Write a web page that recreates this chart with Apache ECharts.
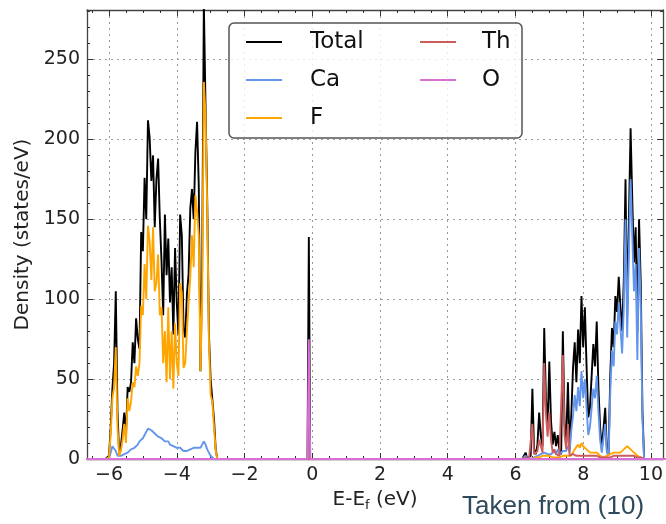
<!DOCTYPE html>
<html><head><meta charset="utf-8">
<script src="https://cdn.jsdelivr.net/npm/echarts@6/dist/echarts.min.js"></script>
<style>html,body{margin:0;padding:0;background:#fff}#chart{width:666px;height:524px}</style>
</head><body><div id="chart"></div>
<script>
// ---------- data ----------
const seriesNames = ['Total', 'Ca', 'F', 'Th', 'O'];
const seriesColors = ['#000000', '#6495ED', '#FFA500', '#CD5C5C', '#DA70D6'];

const xRange = [-6.65, 10.36];
const yRange = [0, 281];
const xTickValues = [-6, -4, -2, 0, 2, 4, 6, 8, 10];
const xMinorTickValues = [-6.5, -5.5, -5, -4.5, -3.5, -3, -2.5, -1.5, -1, -0.5, 0.5, 1, 1.5, 2.5, 3, 3.5, 4.5, 5, 5.5, 6.5, 7, 7.5, 8.5, 9, 9.5];
const yTickValues = [0, 50, 100, 150, 200, 250];
const yMinorTickValues = [10, 20, 30, 40, 60, 70, 80, 90, 110, 120, 130, 140, 160, 170, 180, 190, 210, 220, 230, 240, 260, 270, 280];

// end points of the energy window (zero density)
const edgeEnergy = [-6.8, 10.5];
const edgeDensity = [0, 0];

// valence band
const valenceEnergy = [-6.10,-6.05,-6.00,-5.95,-5.90,-5.85,-5.80,-5.75,-5.70,-5.65,-5.60,-5.55,-5.50,-5.45,-5.40,-5.35,-5.30,-5.25,-5.20,-5.15,-5.10,-5.05,-5.00,-4.95,-4.90,-4.85,-4.80,-4.75,-4.70,-4.65,-4.60,-4.55,-4.50,-4.45,-4.40,-4.35,-4.30,-4.25,-4.20,-4.15,-4.10,-4.05,-4.00,-3.95,-3.90,-3.85,-3.80,-3.75,-3.70,-3.65,-3.60,-3.55,-3.50,-3.45,-3.40,-3.35,-3.30,-3.25,-3.20,-3.15,-3.10,-3.05,-3.00,-2.95,-2.90,-2.85,-2.80];
const valenceTotal = [0,0,2,20,44,60,105,30,3,8,18,29,14,45,42,48,73,60,88,75,69,142,130,176,150,212,201,174,190,145,175,188,150,124,90,153,115,138,98,120,78,132,98,78,153,140,82,76,103,116,157,169,150,192,211,171,55,120,285,221,161,78,50,49,25,6,0];
const valenceF     = [0,0,1,16,38,45,70,20,2,5,12,22,10,38,30,36,48,45,58,52,60,96,90,122,100,146,136,112,145,105,110,128,90,95,60,80,48,95,50,80,44,85,60,52,110,104,57,60,80,98,114,140,120,165,155,140,55,100,236,215,155,74,40,36,20,5,0];
const valenceCa    = [0,0,0,4,8,7,5,2,1,2,3,3,3,4,5,6,6,7,8,9,11,12,13,15,16,19,20,18,17,16,15,14,14,13,12,11,10,11,9,9,8,8,7,8,7,6,5,4,5,5,6,6,7,6,7,8,7,9,11,9,6,4,2,1,0,0,0];

// state at the Fermi level
const fermiEnergy = [-0.14, -0.10, -0.06];
const fermiTotal = [0, 139, 0];
const fermiO = [0, 75, 0];

// conduction band
const conductionEnergy = [6.20,6.25,6.30,6.35,6.40,6.45,6.50,6.55,6.60,6.65,6.70,6.75,6.80,6.85,6.90,6.95,7.00,7.05,7.10,7.15,7.20,7.25,7.30,7.35,7.40,7.45,7.50,7.55,7.60,7.65,7.70,7.75,7.80,7.85,7.90,7.95,8.00,8.05,8.10,8.15,8.20,8.25,8.30,8.35,8.40,8.45,8.50,8.55,8.60,8.65,8.70,8.75,8.80,8.85,8.90,8.95,9.00,9.05,9.10,9.15,9.20,9.25,9.30,9.35,9.40,9.45,9.50,9.55,9.60,9.65,9.70,9.75,9.80,9.85];
const conductionTotal = [0,0,4,0,0,2,44,6,3,9,29,14,8,82,38,20,61,24,9,17,8,15,5,3,80,22,12,48,6,28,57,73,48,81,60,102,70,95,58,26,32,52,72,58,86,45,20,6,5,32,6,3,52,82,70,102,92,114,95,80,112,175,90,150,207,162,123,145,80,150,110,30,0,0];
const conductionCa    = [0,0,2,0,0,0,1,1,1,2,2,3,2,4,3,3,4,3,3,5,3,6,3,2,5,4,5,8,4,18,27,40,30,45,33,55,38,50,32,15,20,32,44,38,52,30,12,4,3,22,4,2,42,68,58,86,78,98,82,66,95,150,76,130,175,140,105,122,62,132,95,25,0,0];
const conductionF     = [0,0,0,0,0,0,0,0,1,1,1,2,2,2,2,2,2,2,1,2,1,2,1,1,2,2,2,3,2,3,4,6,5,9,7,10,8,9,6,5,4,3,4,3,4,3,2,1,1,2,2,2,3,3,4,3,4,3,4,5,6,6,8,7,6,5,4,3,2,2,1,0,0,0];
const conductionTh    = [0,0,1,0,0,1,22,3,2,5,12,8,4,60,28,14,29,12,4,6,3,4,2,1,65,15,6,22,2,2,3,3,2,3,2,3,2,3,2,2,2,2,2,2,2,2,1,1,1,1,1,1,1,2,2,2,2,2,2,2,2,2,2,2,2,2,2,1,1,1,1,0,0,0];

// ---------- build ----------
function pairs(xs, ys) { return xs.map((x, i) => [x, ys[i]]); }
function assemble(parts) {
  let out = [[edgeEnergy[0], edgeDensity[0]]];
  parts.forEach(p => { out = out.concat(pairs(p[0], p[1])); });
  out.push([edgeEnergy[1], edgeDensity[1]]);
  return out;
}
const seriesData = {
  Total: assemble([[valenceEnergy, valenceTotal], [fermiEnergy, fermiTotal], [conductionEnergy, conductionTotal]]),
  Ca: assemble([[valenceEnergy, valenceCa], [conductionEnergy, conductionCa]]),
  F: assemble([[valenceEnergy, valenceF], [conductionEnergy, conductionF]]),
  Th: assemble([[conductionEnergy, conductionTh]]),
  O: assemble([[fermiEnergy, fermiO]])
};

const FONT = 'DejaVu Sans';
const frameLine = { show: true, onZero: false, lineStyle: { color: '#444', width: 1.3 } };
const noLine = { show: false, onZero: false };
const minus = v => (v < 0 ? '\u2212' + Math.abs(v) : String(v));

function xAx(pos, main, minor) {
  return {
    type: 'value', position: pos, min: xRange[0], max: xRange[1], gridIndex: 0,
    axisLine: main ? frameLine : noLine,
    axisTick: { show: true, inside: true, length: minor ? 3 : 6, customValues: minor ? xMinorTickValues : xTickValues, lineStyle: { color: '#333', width: 1 } },
    axisLabel: (main && pos === 'bottom') ? { show: true, customValues: xTickValues, formatter: minus, fontSize: 19, fontFamily: FONT, color: '#222', margin: 7 } : { show: false },
    splitLine: (main && pos === 'bottom') ? { show: true, lineStyle: { type: [2, 4], color: '#9a9a9a', width: 1 } } : { show: false },
    minorTick: { show: false }
  };
}
function yAx(pos, main, minor) {
  return {
    type: 'value', position: pos, min: yRange[0], max: yRange[1], gridIndex: 0,
    axisLine: main ? frameLine : noLine,
    axisTick: { show: true, inside: true, length: minor ? 3 : 6, customValues: minor ? yMinorTickValues : yTickValues, lineStyle: { color: '#333', width: 1 } },
    axisLabel: (main && pos === 'left') ? { show: true, customValues: yTickValues, fontSize: 19, fontFamily: FONT, color: '#222', margin: 7 } : { show: false },
    splitLine: (main && pos === 'left') ? { show: true, lineStyle: { type: [2, 4], color: '#9a9a9a', width: 1 } } : { show: false },
    minorTick: { show: false }
  };
}

const xAxes = [xAx('bottom', true, false), xAx('top', true, false), xAx('bottom', false, true), xAx('top', false, true)];
Object.assign(xAxes[0], {
  name: '{a|E-E}{s|f}{a| (eV)}', nameLocation: 'middle', nameGap: 28,
  nameTextStyle: { color: '#222', fontFamily: FONT, rich: { a: { fontSize: 20, fontFamily: FONT, color: '#222', lineHeight: 24 }, s: { fontSize: 13, fontFamily: FONT, color: '#222', verticalAlign: 'bottom', lineHeight: 12 } } }
});
const yAxes = [yAx('left', true, false), yAx('right', true, false), yAx('left', false, true), yAx('right', false, true)];
Object.assign(yAxes[0], {
  name: 'Density (states/eV)', nameLocation: 'middle', nameGap: 52,
  nameTextStyle: { fontSize: 20, fontFamily: FONT, color: '#222' }
});

const chart = echarts.init(document.getElementById('chart'), null, { renderer: 'canvas' });
chart.setOption({
  animation: false,
  backgroundColor: '#fff',
  grid: { left: 87, right: 1, top: 10, bottom: 65, containLabel: false },
  xAxis: xAxes,
  yAxis: yAxes,
  legend: [
    { data: ['Total', 'Ca', 'F'], orient: 'vertical', left: 246, top: 29, padding: 0, itemGap: 12, itemWidth: 36, itemHeight: 2, icon: 'rect', selectedMode: false, z: 10,
      textStyle: { fontSize: 23, fontFamily: FONT, color: '#111', lineHeight: 26, padding: [0, 0, 0, 23] } },
    { data: ['Th', 'O'], orient: 'vertical', left: 420, top: 29, padding: 0, itemGap: 12, itemWidth: 36, itemHeight: 2, icon: 'rect', selectedMode: false, z: 10,
      textStyle: { fontSize: 23, fontFamily: FONT, color: '#111', lineHeight: 26, padding: [0, 0, 0, 21] } }
  ],
  graphic: [
    { type: 'rect', z: 5, shape: { x: 229, y: 23, width: 293, height: 115, r: 5 }, style: { fill: 'rgba(255,255,255,0.8)', stroke: '#555', lineWidth: 1.5 } },
    { type: 'text', z: 5, left: 462, top: 494, style: { text: 'Taken from (10)', fontSize: 26, fontFamily: 'Liberation Sans', fill: '#2F4A5C' } }
  ],
  series: seriesNames.map((n, i) => ({
    name: n, type: 'line', xAxisIndex: 0, yAxisIndex: 0,
    data: seriesData[n], symbol: 'none', showSymbol: false, clip: true,
    lineStyle: { color: seriesColors[i], width: 1.9 },
    itemStyle: { color: seriesColors[i] },
    z: 2 + i * 0.01
  }))
});
</script></body></html>
